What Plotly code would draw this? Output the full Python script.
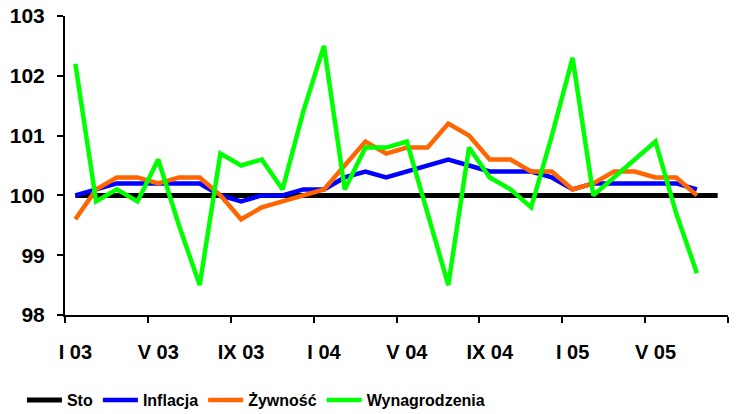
import plotly.graph_objects as go

months = ["I 03", "II 03", "III 03", "IV 03", "V 03", "VI 03", "VII 03", "VIII 03",
          "IX 03", "X 03", "XI 03", "XII 03", "I 04", "II 04", "III 04", "IV 04",
          "V 04", "VI 04", "VII 04", "VIII 04", "IX 04", "X 04", "XI 04", "XII 04",
          "I 05", "II 05", "III 05", "IV 05", "V 05", "VI 05", "VII 05", "VIII 05"]

sto = [100, 100, 100, 100, 100, 100, 100, 100, 100, 100, 100, 100, 100, 100, 100, 100,
       100, 100, 100, 100, 100, 100, 100, 100, 100, 100, 100, 100, 100, 100, 100, 100]

inflacja = [100.0, 100.1, 100.2, 100.2, 100.2, 100.2, 100.2, 100.0, 99.9, 100.0, 100.0,
            100.1, 100.1, 100.3, 100.4, 100.3, 100.4, 100.5, 100.6, 100.5, 100.4, 100.4,
            100.4, 100.3, 100.1, 100.2, 100.2, 100.2, 100.2, 100.2, 100.1]

zywnosc = [99.6, 100.1, 100.3, 100.3, 100.2, 100.3, 100.3, 100.0, 99.6, 99.8, 99.9,
           100.0, 100.1, 100.5, 100.9, 100.7, 100.8, 100.8, 101.2, 101.0, 100.6, 100.6,
           100.4, 100.4, 100.1, 100.2, 100.4, 100.4, 100.3, 100.3, 100.0]

wynagrodzenia = [102.2, 99.9, 100.1, 99.9, 100.6, 99.5, 98.5, 100.7, 100.5, 100.6, 100.1,
                 101.4, 102.5, 100.1, 100.8, 100.8, 100.9, 99.7, 98.5, 100.8, 100.3, 100.1,
                 99.8, 101.0, 102.3, 100.0, 100.3, 100.6, 100.9, 99.7, 98.7]

y_ticks = [98, 99, 100, 101, 102, 103]

series = [
    ("Sto", sto, "#000000", 5),
    ("Inflacja", inflacja, "#0000FF", 4.5),
    ("Żywność", zywnosc, "#FF6600", 4.5),
    ("Wynagrodzenia", wynagrodzenia, "#00FF00", 4.5),
]

FONT = "Liberation Sans, Arial, sans-serif"

fig = go.Figure()
for name, vals, color, w in series:
    fig.add_trace(go.Scatter(
        x=months[:len(vals)], y=vals, name=name, mode="lines",
        line=dict(color=color, width=w),
    ))

fig.update_layout(
    width=739, height=414,
    margin=dict(l=65, r=11, t=16, b=99, autoexpand=False),
    paper_bgcolor="white", plot_bgcolor="white",
    font=dict(family=FONT, color="black"),
    showlegend=True,
    legend=dict(
        orientation="h", x=-0.065, xanchor="left", y=-0.285, yanchor="middle",
        font=dict(family=FONT, size=16, weight="bold", color="black"),
        itemwidth=35, tracegroupgap=0,
    ),
    xaxis=dict(
        type="category", categoryorder="array", categoryarray=months,
        range=[-0.5, 31.5],
        tickmode="linear", tick0=0, dtick=4,
        tickson="boundaries", tickangle=0,
        ticks="outside", ticklen=6, tickwidth=2, tickcolor="black",
        showline=True, linecolor="black", linewidth=2,
        showgrid=False, zeroline=False,
        tickfont=dict(family=FONT, size=20, weight="bold", color="black"),
        ticklabelstandoff=18,
    ),
    yaxis=dict(
        range=[98, 103], tickvals=y_ticks,
        ticks="outside", ticklen=6, tickwidth=2, tickcolor="black",
        showline=True, linecolor="black", linewidth=2,
        showgrid=False, zeroline=False,
        tickfont=dict(family=FONT, size=21, weight="bold", color="black"),
        ticklabelstandoff=8,
    ),
)

fig.write_html("out.html", config={"displayModeBar": False},
               post_script="document.body.style.margin='0';")
